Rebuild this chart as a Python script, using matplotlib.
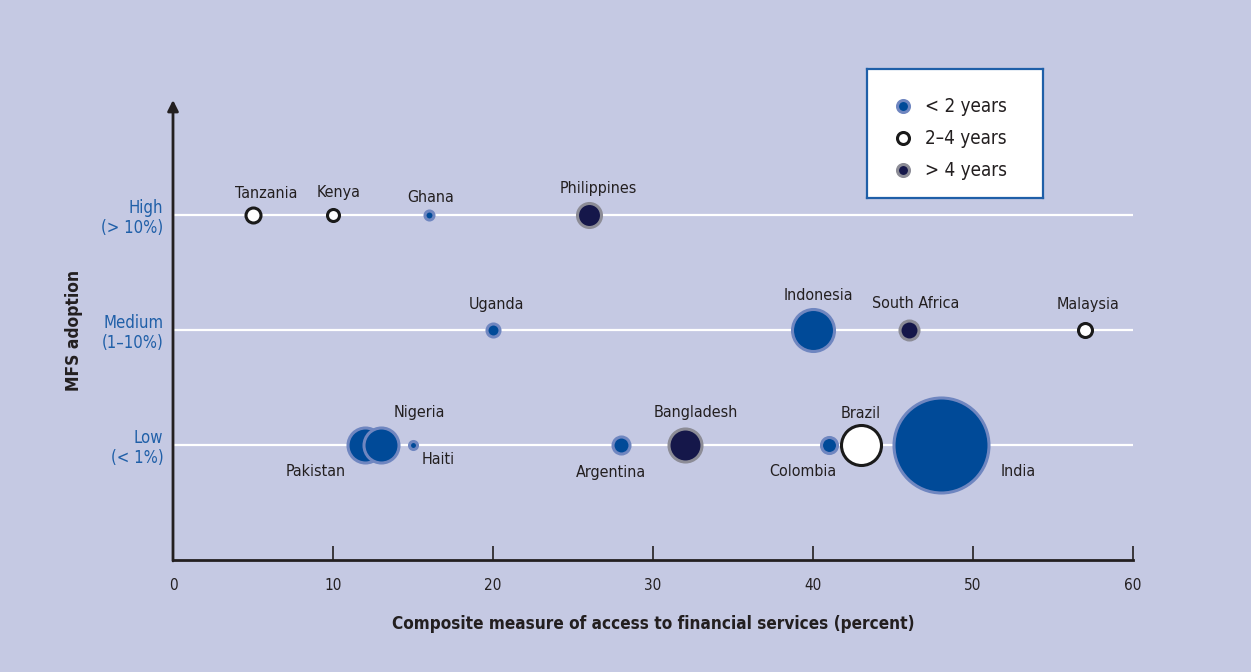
import matplotlib.pyplot as plt

# data
countries = ["Tanzania", "Kenya", "Ghana", "Philippines", "Uganda", "Indonesia",
             "South Africa", "Malaysia", "Pakistan", "Nigeria", "Haiti", "Argentina",
             "Bangladesh", "Colombia", "Brazil", "India"]
access = [5, 10, 16, 26, 20, 40, 46, 57, 12, 13, 15, 28, 32, 41, 43, 48]
adoption = [3, 3, 3, 3, 2, 2, 2, 2, 1, 1, 1, 1, 1, 1, 1, 1]   # 1=Low, 2=Medium, 3=High
years = ["2-4", "2-4", "<2", ">4", "<2", "<2", ">4", "2-4",
         "<2", "<2", "<2", "<2", ">4", "<2", "2-4", "<2"]
bubble = [15, 12, 9, 24, 13, 42, 19, 14, 35, 35, 8, 17, 33, 16, 40, 95]

level_ticks = [1, 2, 3]
level_labels = ["Low\n(< 1%)", "Medium\n(1–10%)", "High\n(> 10%)"]
x_ticks = [0, 10, 20, 30, 40, 50, 60]
legend_keys = ["<2", "2-4", ">4"]
legend_labels = ["< 2 years", "2–4 years", "> 4 years"]

# label offsets in pixels (dx, dy)
label_offset = {
    "Tanzania": (13, 22), "Kenya": (6, 22), "Ghana": (2, 17), "Philippines": (9, 27),
    "Uganda": (3, 25), "Indonesia": (5, 34), "South Africa": (7, 26), "Malaysia": (3, 26),
    "Nigeria": (38, 32), "Pakistan": (-49, -27), "Haiti": (25, -14), "Argentina": (-10, -27),
    "Bangladesh": (11, 32), "Colombia": (-26, -27), "Brazil": (0, 32), "India": (77, -27),
}

bg = "#c5c9e3"
ink = "#231f20"
blue_txt = "#1f5fa8"
styles = {
    "<2": dict(fc="#004a98", ec="#6f86c0", lw=2.2),
    "2-4": dict(fc="white", ec="#1a1a1a", lw=2.2),
    ">4": dict(fc="#15174a", ec="#8c8c96", lw=2.2),
}

plt.rcParams['font.family'] = ['DejaVu Sans']
plt.rcParams['font.stretch'] = 'condensed'

fig = plt.figure(figsize=(12.51, 6.72), dpi=100, facecolor=bg)
ax = fig.add_axes([173 / 1251, 1 - 560 / 672, 960 / 1251, 460 / 672])
ax.set_facecolor(bg)
ax.set_xlim(0, 60)
ax.set_ylim(0, 4)

for lv in level_ticks:
    ax.axhline(lv, color="white", lw=1.6, zorder=1)

for name, x, y, yr, b in zip(countries, access, adoption, years, bubble):
    st = styles[yr]
    ax.scatter(x, y, s=(b * 0.72) ** 2, facecolor=st["fc"], edgecolor=st["ec"],
               linewidth=st["lw"], zorder=3, clip_on=False)
    dx, dy = label_offset[name]
    ax.annotate(name, (x, y), xytext=(dx, dy), textcoords="offset pixels",
                ha="center", va="center", fontsize=11.5, color=ink, zorder=4)

for s in ["top", "right", "left"]:
    ax.spines[s].set_visible(False)
ax.spines["bottom"].set_color(ink)
ax.spines["bottom"].set_linewidth(2)
ax.annotate("", xy=(0, 1.0), xytext=(0, -0.002), xycoords="axes fraction",
            arrowprops=dict(arrowstyle="-|>", color=ink, lw=2, mutation_scale=16,
                            shrinkA=0, shrinkB=0))

ax.set_xticks(x_ticks)
ax.tick_params(axis="x", direction="in", length=10, width=1.2, color=ink,
               pad=13, labelsize=11, labelcolor=ink)
ax.set_yticks(level_ticks)
ax.set_yticklabels(level_labels, color=blue_txt, fontsize=12, multialignment="right",
                   linespacing=1.15)
ax.tick_params(axis="y", length=0, pad=7)

ax.set_xlabel("Composite measure of access to financial services (percent)",
              fontsize=12.3, fontweight="bold", color=ink, labelpad=16)
ax.set_ylabel("MFS adoption", fontsize=12.5, fontweight="bold", color=ink, labelpad=13)

# legend box drawn as a small axes in pixel units
lax = fig.add_axes([867 / 1251, 1 - 198 / 672, 176 / 1251, 129 / 672])
lax.set_xlim(0, 176)
lax.set_ylim(129, 0)
lax.set_facecolor("white")
lax.set_xticks([])
lax.set_yticks([])
for sp in lax.spines.values():
    sp.set_color(blue_txt)
    sp.set_linewidth(1.6)
for i, (k, lab) in enumerate(zip(legend_keys, legend_labels)):
    st = styles[k]
    yy = 37 + 32 * i
    lax.scatter(36, yy, s=(12 * 0.72) ** 2, facecolor=st["fc"], edgecolor=st["ec"],
                linewidth=2.2, zorder=3)
    lax.text(58, yy, lab, va="center", ha="left", fontsize=13.5, color=ink)

fig.savefig("out.png", dpi=100, facecolor=bg)
